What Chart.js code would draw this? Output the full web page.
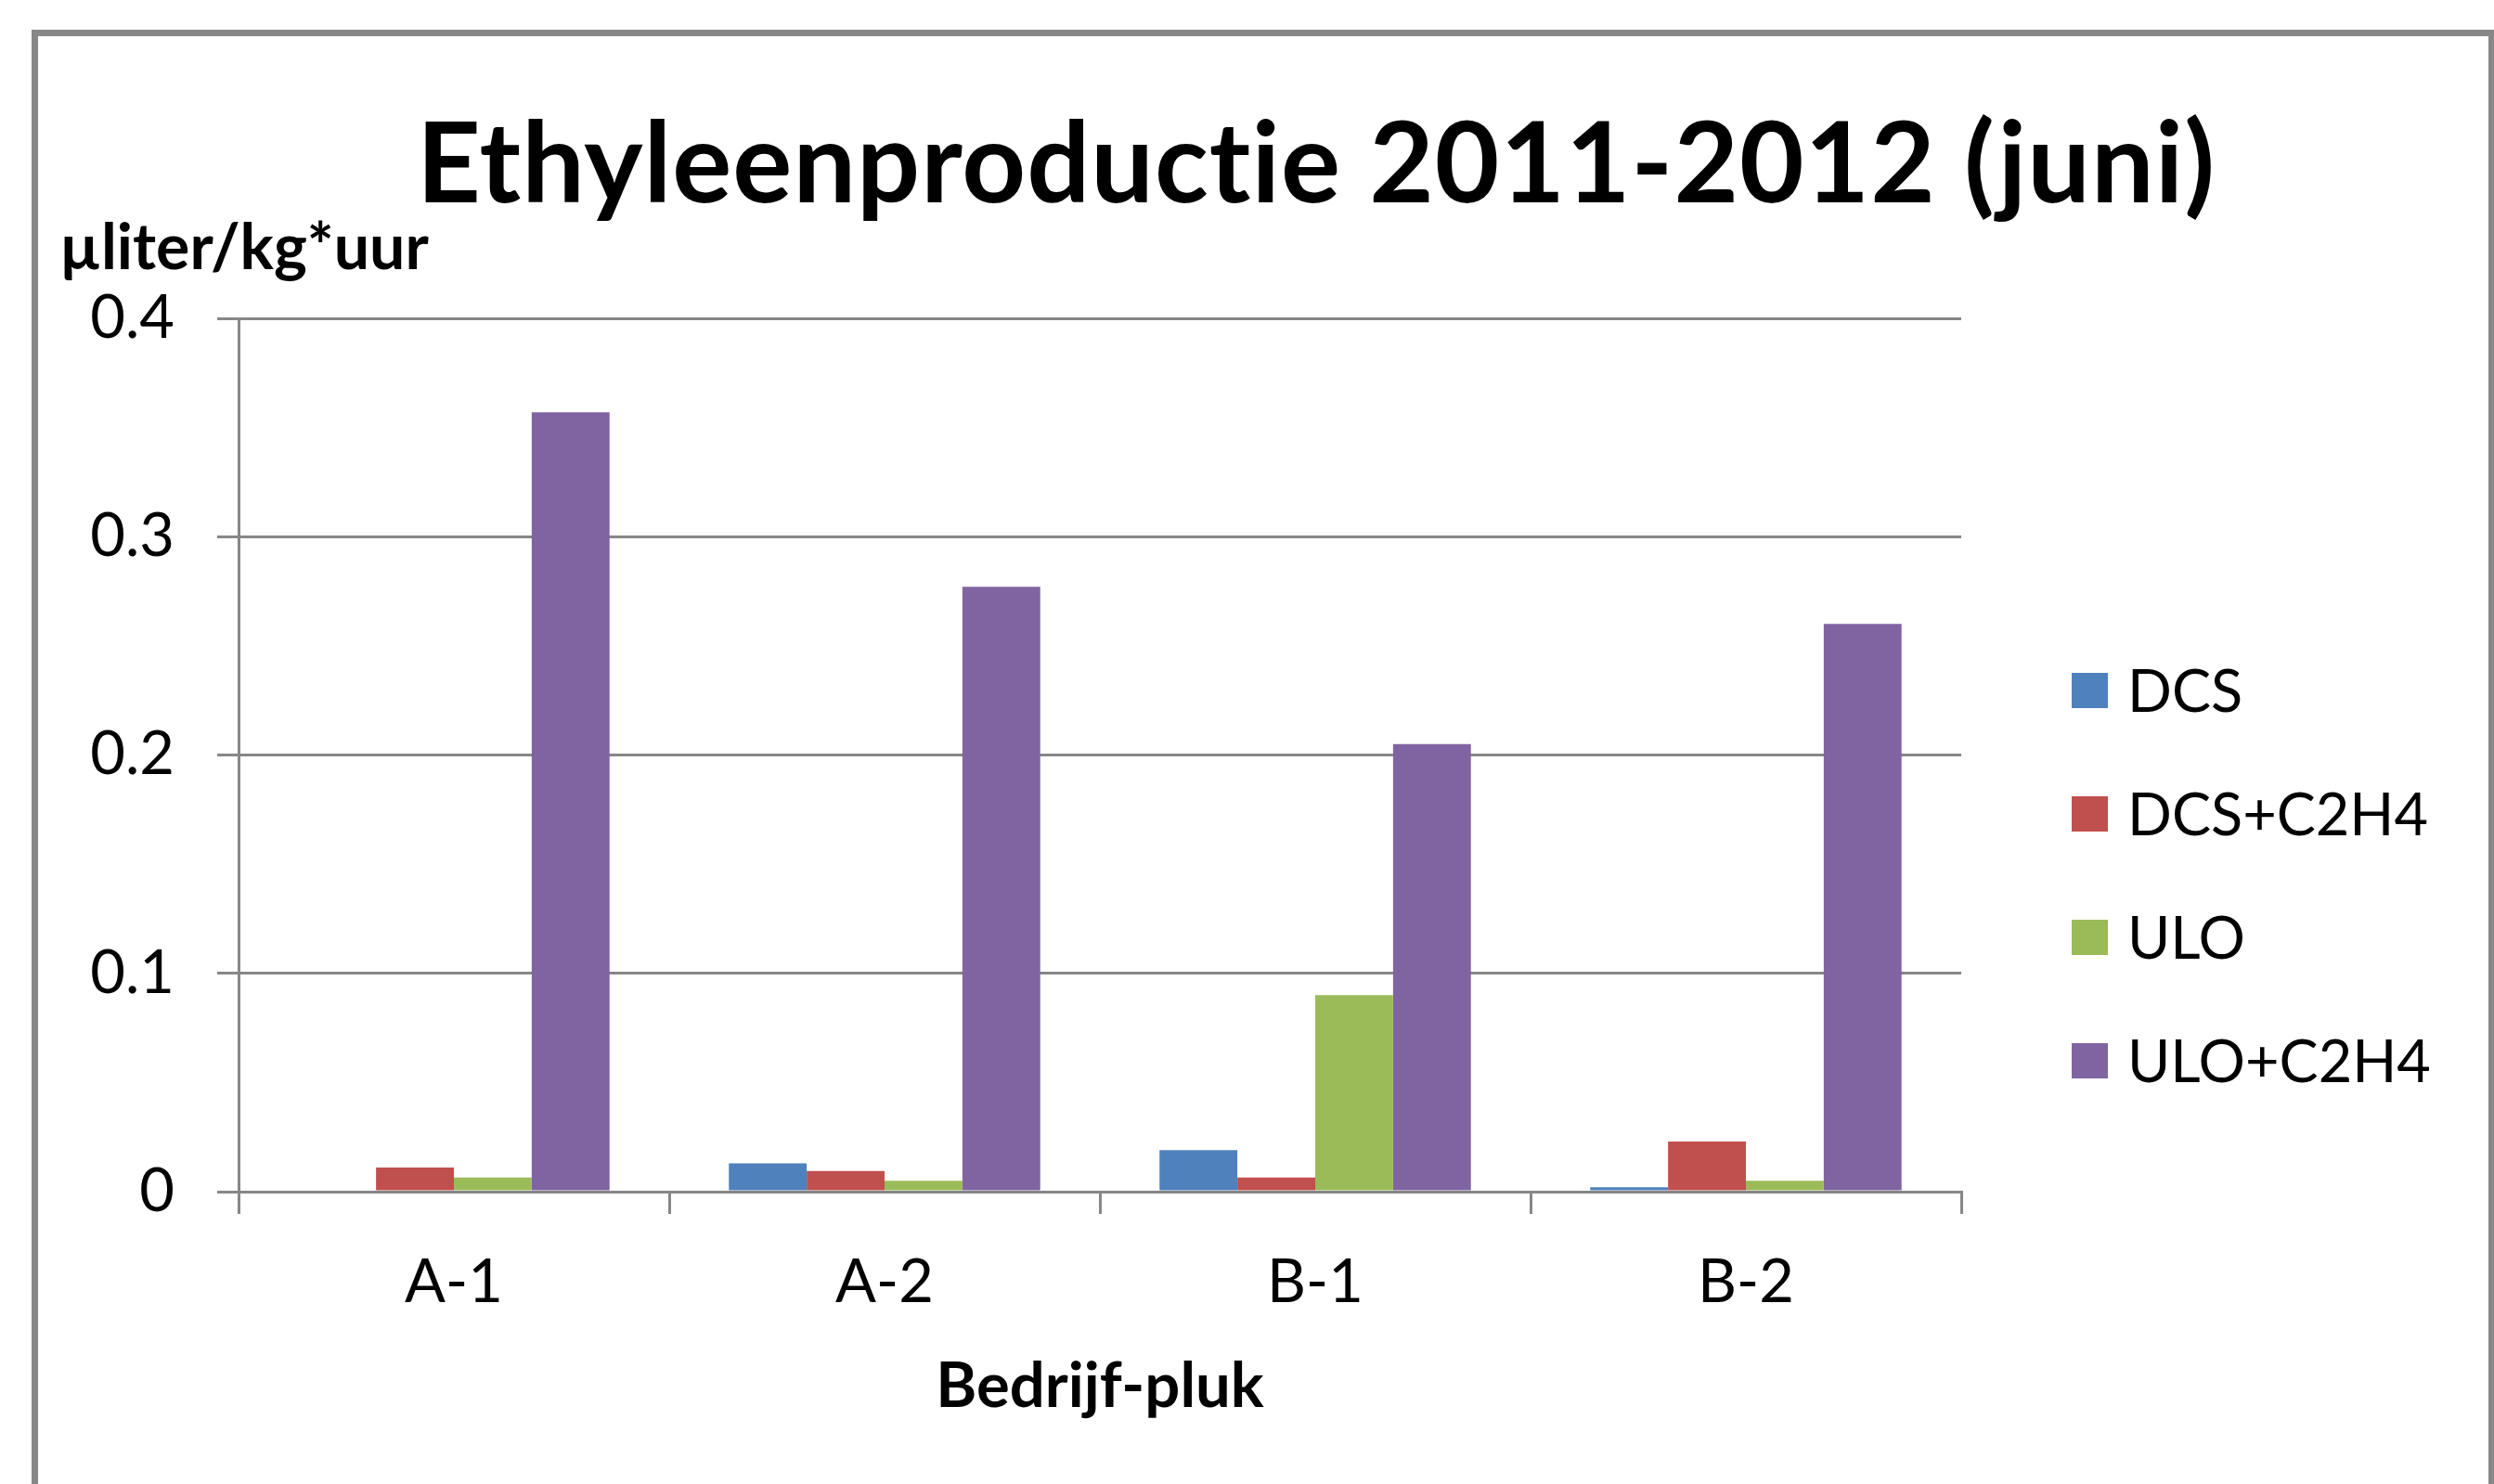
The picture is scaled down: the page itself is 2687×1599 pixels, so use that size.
<!DOCTYPE html>
<html>
<head>
<meta charset="utf-8">
<title>Ethyleenproductie 2011-2012 (juni)</title>
<script src="https://cdn.jsdelivr.net/npm/chart.js@4/dist/chart.umd.min.js"></script>
<style>
  html, body { margin: 0; padding: 0; background: #fff; overflow: hidden; }
  #wrap { position: relative; width: 2687px; height: 1599px; }
</style>
</head>
<body>
<div id="wrap"><canvas id="c" width="2687" height="1599"></canvas></div>
<script>
// ---- data ----
const categories = ['A-1', 'A-2', 'B-1', 'B-2'];
const seriesNames = ['DCS', 'DCS+C2H4', 'ULO', 'ULO+C2H4'];
const dcs         = [0,      0.013,  0.019,  0.002];
const dcsEthylene = [0.011,  0.0095, 0.0065, 0.023];
const ulo         = [0.0065, 0.005,  0.090,  0.005];
const uloEthylene = [0.357,  0.277,  0.205,  0.260];
const yTicks = [0, 0.1, 0.2, 0.3, 0.4];
const chartTitle = 'Ethyleenproductie 2011-2012 (juni)';
const yTitle = 'µliter/kg*uur';
const xTitle = 'Bedrijf-pluk';

// ---- styling ----
const seriesColors = ['#4F81BD', '#C0504D', '#9BBB59', '#8064A2'];
const FONT = 'Lato, "Open Sans", "Liberation Sans", sans-serif';
const AXIS_GRAY = '#878787';

// Frame, chart title and the horizontal unit label
const decorations = {
  id: 'decorations',
  beforeDraw(chart) {
    const ctx = chart.ctx;
    ctx.save();
    ctx.fillStyle = '#ffffff';
    ctx.fillRect(0, 0, chart.width, chart.height);
    ctx.strokeStyle = AXIS_GRAY;
    ctx.lineWidth = 7;
    ctx.strokeRect(37.5, 35.5, 2647, 1600);
    ctx.restore();
  },
  afterDraw(chart) {
    const ctx = chart.ctx;
    ctx.save();
    ctx.fillStyle = '#000';
    ctx.textBaseline = 'alphabetic';
    ctx.textAlign = 'center';
    ctx.font = 'bold 120px ' + FONT;
    ctx.letterSpacing = '1px'; // also keeps "ti" as two separate glyphs
    ctx.fillText(chartTitle, 1418, 218);
    ctx.letterSpacing = '0px';
    ctx.textAlign = 'left';
    ctx.font = 'bold 68px ' + FONT;
    ctx.fillText(yTitle, 64, 290);
    ctx.restore();
  }
};

// Legend column to the right of the plot
const sideLegend = {
  id: 'sideLegend',
  afterDraw(chart) {
    const ctx = chart.ctx;
    ctx.save();
    ctx.font = '63px ' + FONT;
    ctx.textBaseline = 'middle';
    ctx.textAlign = 'left';
    chart.data.datasets.forEach((ds, i) => {
      const cy = 744 + i * 133;
      ctx.fillStyle = ds.backgroundColor;
      ctx.fillRect(2232, cy - 19, 39, 38);
      ctx.fillStyle = '#000';
      ctx.fillText(ds.label, 2292, cy + 3);
    });
    ctx.restore();
  }
};

const seriesValues = [dcs, dcsEthylene, ulo, uloEthylene];

new Chart(document.getElementById('c'), {
  type: 'bar',
  data: {
    labels: categories,
    datasets: seriesNames.map((name, i) => ({
      label: name,
      data: seriesValues[i],
      backgroundColor: seriesColors[i],
      borderWidth: 0,
      categoryPercentage: 0.723,
      barPercentage: 1.0
    }))
  },
  options: {
    responsive: false,
    animation: false,
    devicePixelRatio: 1,
    layout: { padding: { top: 343, right: 574, bottom: 0, left: 0 } },
    plugins: {
      legend: { display: false },
      title: { display: false },
      tooltip: { enabled: false }
    },
    scales: {
      x: {
        grid: {
          display: true, drawOnChartArea: false, drawTicks: true,
          tickLength: 24, color: AXIS_GRAY, lineWidth: 3, offset: true
        },
        border: { display: true, color: AXIS_GRAY, width: 3 },
        ticks: { color: '#000', font: { family: FONT, size: 65 }, padding: 35 },
        title: {
          display: true, text: xTitle, color: '#000',
          font: { family: FONT, size: 67, weight: 'bold' },
          padding: { top: 0, bottom: 64 }
        },
        afterFit(scale) { scale.height = 315; }
      },
      y: {
        min: yTicks[0],
        max: yTicks[yTicks.length - 1],
        afterBuildTicks(scale) { scale.ticks = yTicks.map(v => ({ value: v })); },
        grid: { color: AXIS_GRAY, lineWidth: 3, tickLength: 23, drawTicks: true },
        border: { display: true, color: AXIS_GRAY, width: 3 },
        ticks: {
          color: '#000', font: { family: FONT, size: 65 }, padding: 46,
          callback: v => String(Math.round(v * 10) / 10)
        },
        afterFit(scale) { scale.width = 257; }
      }
    }
  },
  plugins: [decorations, sideLegend]
});
</script>
</body>
</html>
